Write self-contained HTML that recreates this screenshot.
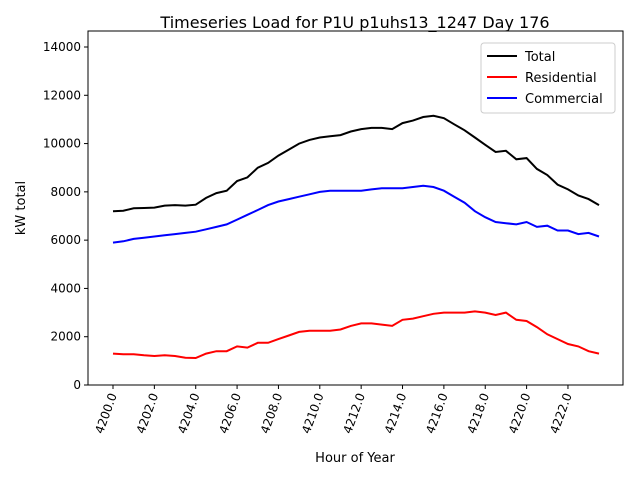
<!DOCTYPE html>
<html><head><meta charset="utf-8"><style>
body{margin:0;background:#fff;font-family:"DejaVu Sans","Liberation Sans",sans-serif}
</style></head><body>
<svg id="chart" width="640" height="480" xmlns="http://www.w3.org/2000/svg" font-family="DejaVu Sans, Liberation Sans, sans-serif">
<rect width="640" height="480" fill="#fff"/>
<text x="355" y="28" font-size="16" text-anchor="middle">Timeseries Load for P1U p1uhs13_1247  Day 176</text>
<g id="plot"></g>
<text x="355" y="462" font-size="13" text-anchor="middle">Hour of Year</text>
<text transform="translate(25,208) rotate(-90)" font-size="13" text-anchor="middle">kW total</text>
<g>
<rect x="481" y="43" width="134" height="70" rx="3" fill="#fff" stroke="#ccc"/>
<line x1="487" y1="56" x2="517" y2="56" stroke="#000" stroke-width="2"/><text x="525" y="61" font-size="13">Total</text>
<line x1="487" y1="77" x2="517" y2="77" stroke="#f00" stroke-width="2"/><text x="525" y="82" font-size="13">Residential</text>
<line x1="487" y1="98" x2="517" y2="98" stroke="#00f" stroke-width="2"/><text x="525" y="103" font-size="13">Commercial</text>
</g>
</svg>
<script>
const startHour=4200, stepHour=0.5;
const residential=[1300,1270,1270,1230,1200,1230,1200,1130,1120,1300,1400,1400,1600,1550,1750,1750,1900,2050,2200,2250,2250,2250,2300,2450,2550,2550,2500,2450,2700,2750,2850,2950,3000,3000,3000,3050,3000,2900,3000,2700,2650,2400,2100,1900,1700,1600,1400,1300];
const commercial=[5900,5950,6050,6100,6150,6200,6250,6300,6350,6450,6550,6650,6850,7050,7250,7450,7600,7700,7800,7900,8000,8050,8050,8050,8050,8100,8150,8150,8150,8200,8250,8200,8050,7800,7550,7200,6950,6750,6700,6650,6750,6550,6600,6400,6400,6250,6300,6150];
const total=[7200,7220,7320,7330,7350,7430,7450,7430,7470,7750,7950,8050,8450,8600,9000,9200,9500,9750,10000,10150,10250,10300,10350,10500,10600,10650,10650,10600,10850,10950,11100,11150,11050,10800,10550,10250,9950,9650,9700,9350,9400,8950,8700,8300,8100,7850,7700,7450];
const yTicks=[0,2000,4000,6000,8000,10000,12000,14000];
const xTicks=[4200,4202,4204,4206,4208,4210,4212,4214,4216,4218,4220,4222];
const L=88,R=623,T=31,B=385;
const xs=h=>113+(h-4200)*20.68;
const ys=v=>B-v*(B-47)/14000;
const NS='http://www.w3.org/2000/svg';
const g=document.getElementById('plot');
function mk(t,a){const e=document.createElementNS(NS,t);for(const k in a)e.setAttribute(k,a[k]);g.appendChild(e);return e;}
yTicks.forEach(v=>{const y=ys(v);
 const l=mk('line',{x1:L-4,x2:L,y1:y,y2:y,stroke:'#000'});
 
 
 const t=mk('text',{x:L-7,y:y+4,'font-size':12,'text-anchor':'end'});t.textContent=v;
 
 
});
xTicks.forEach(h=>{const x=xs(h);
 const l=mk('line',{x1:x,x2:x,y1:B,y2:B+4,stroke:'#000'});
 
 
 const t=mk('text',{transform:`translate(${x+4},${B+10}) rotate(-70)`,'font-size':12,'text-anchor':'end'});t.textContent=h.toFixed(1);
 
 
});
function line(arr,color,name){
 const p=mk('polyline',{points:arr.map((v,i)=>xs(startHour+i*stepHour).toFixed(1)+','+ys(v).toFixed(1)).join(' '),fill:'none',stroke:color,'stroke-width':2});
 
 
}
line(total,'#000','total-line');
line(residential,'#f00','residential-line');
line(commercial,'#00f','commercial-line');
const f=mk('rect',{x:L,y:T,width:R-L,height:B-T,fill:'none',stroke:'#000'});


</script>
</body></html>
